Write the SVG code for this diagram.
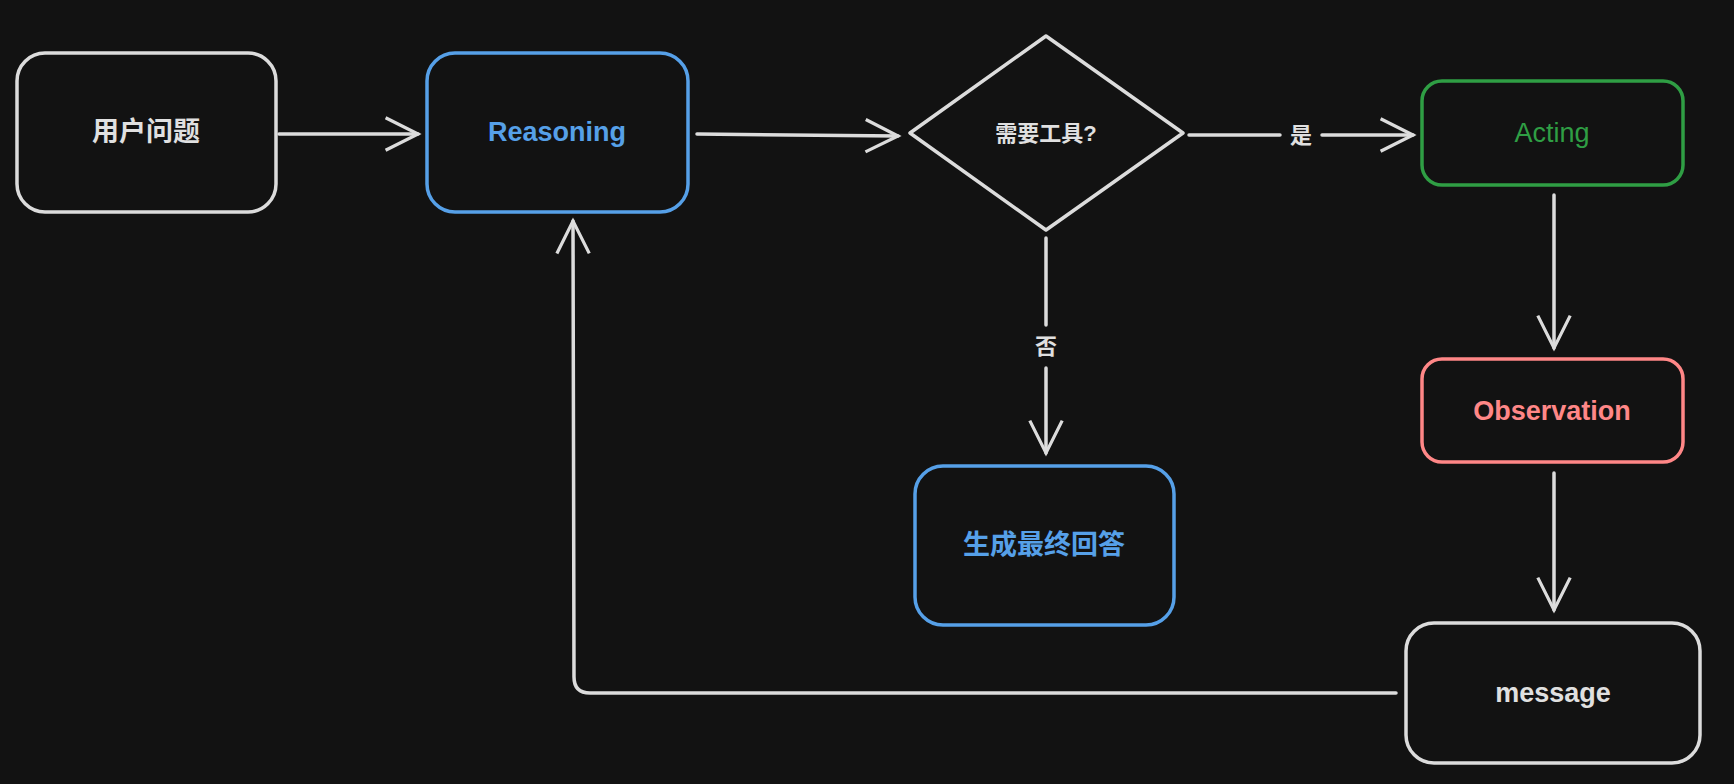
<svg xmlns="http://www.w3.org/2000/svg" width="1734" height="784" viewBox="0 0 1734 784">
<defs>
<style>
.n{fill:none;stroke-width:3.5;stroke-linejoin:round}
.w{stroke:#dcdcdc}.b{stroke:#56a0e8}.g{stroke:#2f9e44}.r{stroke:#ff8787}
.t{font-family:"Liberation Sans","Noto Sans CJK SC",sans-serif;font-size:27px;text-anchor:middle;dominant-baseline:central;fill:#e0e0e0}
.s{font-size:22px;font-weight:bold}
.c{fill:none;stroke:#dcdcdc;stroke-width:3.5;stroke-linecap:round;stroke-linejoin:round}
</style>
<marker id="ab" viewBox="0 0 20 20" refX="18" refY="10" markerWidth="40" markerHeight="36" markerUnits="userSpaceOnUse" orient="auto"><path d="M0,1 L18,10 L0,19" fill="none" stroke="#dcdcdc" stroke-width="1.8"/></marker>
</defs>
<rect width="1734" height="784" fill="#121212"/>
<g id="connectors">
<path class="c" d="M279,134 L418,134" marker-end="url(#ab)"/>
<path class="c" d="M697,134 L898,136" marker-end="url(#ab)"/>
<path class="c" d="M1189,135 L1280,135"/>
<path class="c" d="M1322,135 L1413,135" marker-end="url(#ab)"/>
<text class="t s" x="1301" y="135">是</text>
<path class="c" d="M1046,238 L1046,325"/>
<path class="c" d="M1046,368 L1046,453" marker-end="url(#ab)"/>
<text class="t s" x="1046" y="346">否</text>
<path class="c" d="M1554,195 L1554,348" marker-end="url(#ab)"/>
<path class="c" d="M1554,473 L1554,610" marker-end="url(#ab)"/>
<path class="c" d="M1396,693 L590,693 Q574,693 574,677 L573,221" marker-end="url(#ab)"/>
</g>
<g id="n1"><rect class="n w" x="17" y="53" width="259" height="159" rx="28"/><text class="t" x="146" y="132" font-weight="bold">用户问题</text></g>
<g id="n2"><rect class="n b" x="427" y="53" width="261" height="159" rx="28"/><text class="t" x="557" y="132" style="fill:#56a0e8;font-weight:bold">Reasoning</text></g>
<g id="n3"><path class="n w" d="M1046,36 L1183,133 L1046,230 L910,133 Z"/><text class="t s" x="1046" y="133">需要工具?</text></g>
<g id="n4"><rect class="n g" x="1422" y="81" width="261" height="104" rx="20"/><text class="t" x="1552" y="133" style="fill:#2f9e44">Acting</text></g>
<g id="n5"><rect class="n r" x="1422" y="359" width="261" height="103" rx="20"/><text class="t" x="1552" y="411" style="fill:#ff8787;font-weight:bold">Observation</text></g>
<g id="n6"><rect class="n b" x="915" y="466" width="259" height="159" rx="28"/><text class="t" x="1044" y="545" style="fill:#56a0e8;font-weight:bold">生成最终回答</text></g>
<g id="n7"><rect class="n w" x="1406" y="623" width="294" height="140" rx="28"/><text class="t" x="1553" y="693" font-weight="bold">message</text></g>
</svg>
